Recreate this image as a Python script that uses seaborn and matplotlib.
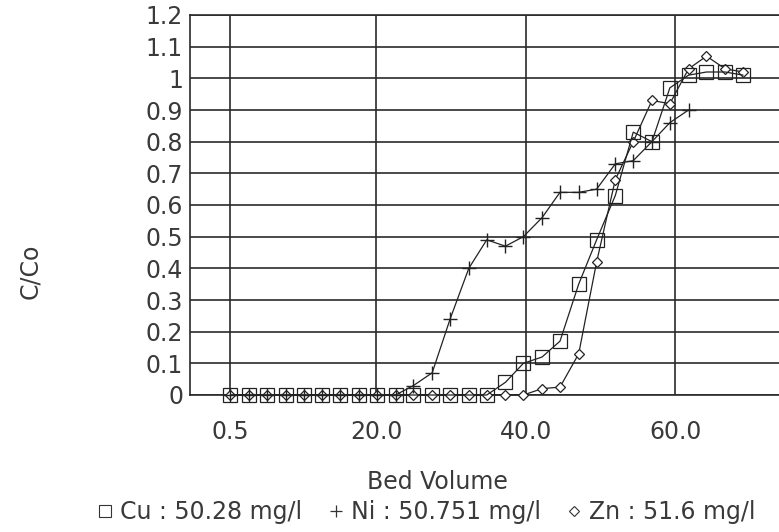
import matplotlib
matplotlib.use("Agg")
import matplotlib.pyplot as plt
import seaborn as sns
import pandas as pd
from matplotlib.lines import Line2D

bed_volume = [0.5, 3.0, 5.4, 7.9, 10.3, 12.8, 15.2, 17.7, 20.1, 22.6, 25.0, 27.5,
              29.9, 32.4, 34.8, 37.3, 39.7, 42.2, 44.6, 47.1, 49.5, 52.0, 54.4,
              56.9, 59.3, 61.8, 64.2, 66.7, 69.1]

cu = [0, 0, 0, 0, 0, 0, 0, 0, 0, 0, 0, 0, 0, 0, 0, 0.04, 0.10, 0.12, 0.17,
      0.35, 0.49, 0.63, 0.83, 0.80, 0.97, 1.01, 1.02, 1.02, 1.01]
ni = [0, 0, 0, 0, 0, 0, 0, 0, 0, 0, 0.03, 0.07, 0.24, 0.40, 0.49, 0.47, 0.50,
      0.56, 0.64, 0.64, 0.65, 0.73, 0.74, 0.80, 0.86, 0.90]
zn = [0, 0, 0, 0, 0, 0, 0, 0, 0, 0, 0, 0, 0, 0, 0, 0, 0, 0.02, 0.025, 0.13,
      0.42, 0.68, 0.80, 0.93, 0.92, 1.03, 1.07, 1.03, 1.02]

x_ticks = [0.5, 20.0, 40.0, 60.0]
x_tick_labels = ["0.5", "20.0", "40.0", "60.0"]
y_ticks = [0, 0.1, 0.2, 0.3, 0.4, 0.5, 0.6, 0.7, 0.8, 0.9, 1.0, 1.1, 1.2]
y_tick_labels = ["0", "0.1", "0.2", "0.3", "0.4", "0.5", "0.6", "0.7", "0.8",
                 "0.9", "1", "1.1", "1.2"]
legend_labels = ["Cu : 50.28 mg/l", "Ni : 50.751 mg/l", "Zn : 51.6 mg/l"]

sns.set_style("white")
plt.rcParams['font.family'] = ['DejaVu Sans']

fig = plt.figure(figsize=(7.79, 5.32), dpi=100)
ax = fig.add_axes([190/779, 1 - 395/532, 1 - 190/779, (395 - 15)/532])

txt = "#3a3a3a"
grid_c = "#2a2a2a"
fs = 17

df_cu = pd.DataFrame({"x": bed_volume[:len(cu)], "y": cu})
df_ni = pd.DataFrame({"x": bed_volume[:len(ni)], "y": ni})
df_zn = pd.DataFrame({"x": bed_volume[:len(zn)], "y": zn})

sns.lineplot(data=df_zn, x="x", y="y", ax=ax, color="#222222", lw=0.9,
             marker="D", markersize=5.5, markerfacecolor="white",
             markeredgecolor="#222222", markeredgewidth=0.9, clip_on=False, zorder=3)
sns.lineplot(data=df_cu, x="x", y="y", ax=ax, color="#222222", lw=0.9,
             marker="s", markersize=10, markerfacecolor="none",
             markeredgecolor="#222222", markeredgewidth=0.9, clip_on=False, zorder=4)
sns.lineplot(data=df_ni, x="x", y="y", ax=ax, color="#222222", lw=0.9,
             marker="+", markersize=10, markeredgecolor="#222222",
             markeredgewidth=1.0, clip_on=False, zorder=5)

ax.set_xlim(-4.9, 73.9)
ax.set_ylim(0, 1.2)
ax.set_xticks(x_ticks)
ax.set_xticklabels(x_tick_labels)
ax.set_yticks(y_ticks)
ax.set_yticklabels(y_tick_labels)
ax.tick_params(axis="both", length=0, labelsize=fs, colors=txt)
ax.tick_params(axis="y", pad=5)
ax.tick_params(axis="x", pad=18)
ax.grid(True, color=grid_c, lw=1.2)
ax.set_axisbelow(True)
for s in ["left", "top", "bottom"]:
    ax.spines[s].set_color(grid_c)
    ax.spines[s].set_linewidth(1.2)
ax.spines["right"].set_visible(False)
ax.set_xlabel("")
ax.set_ylabel("")

fig.text(437/779, 1 - 482/532, "Bed Volume", ha="center", va="center",
         fontsize=fs, color=txt)
fig.text(30/779, 1 - 271/532, "C/Co", ha="center", va="center",
         fontsize=fs, color=txt, rotation=90)

handles = [
    Line2D([], [], ls="none", marker="s", markersize=8, markerfacecolor="none",
           markeredgecolor="#333333", markeredgewidth=0.8),
    Line2D([], [], ls="none", marker="+", markersize=9, markeredgecolor="#333333",
           markeredgewidth=0.9),
    Line2D([], [], ls="none", marker="D", markersize=5, markerfacecolor="none",
           markeredgecolor="#333333", markeredgewidth=0.8),
]
leg = fig.legend(handles, legend_labels, loc="center", ncol=3,
                 bbox_to_anchor=(427/779, 1 - 512/532), frameon=False,
                 fontsize=fs, handlelength=0.6, handletextpad=0.35,
                 columnspacing=1.1, labelcolor=txt, borderpad=0)

fig.savefig("out.png", dpi=100, facecolor="white")
